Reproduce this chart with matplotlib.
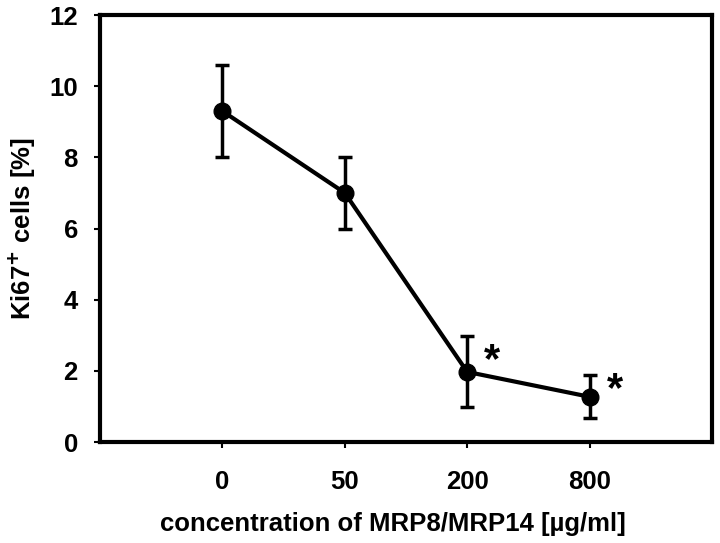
import numpy as np
import matplotlib.pyplot as plt

plt.rcParams['font.family'] = ['Liberation Sans', 'DejaVu Sans']
plt.rcParams['font.weight'] = 'bold'

conc_labels = ['0', '50', '200', '800']
ki67 = [9.3, 7.0, 1.97, 1.27]
err = [1.3, 1.0, 1.0, 0.6]
signif = [False, False, True, True]

fig = plt.figure(figsize=(7.2, 5.43), dpi=100)
ax = fig.add_axes([100 / 720, 1 - 442 / 543, 612 / 720, 427 / 543])

x = np.arange(len(conc_labels))
ax.errorbar(x, ki67, yerr=err, color='black', lw=3, marker='o', ms=12,
            capsize=5, capthick=2.5, elinewidth=2.5)
# significance stars next to the points
for xi, yi, e, s in zip(x, ki67, err, signif):
    if s:
        ax.text(xi + 0.14, yi + e * 0.3, '*', fontsize=30, fontweight='bold',
                ha='left', va='center')

ax.set_xlim(-1, 4)
ax.set_ylim(0, 12)
ax.set_xticks(x)
ax.set_xticklabels(conc_labels)
ax.set_yticks(np.arange(0, 13, 2))
ax.tick_params(axis='both', labelsize=18.5, width=1.5, length=4)
ax.tick_params(axis='y', pad=12)
ax.tick_params(axis='x', pad=16)
for sp in ax.spines.values():
    sp.set_linewidth(3)

ax.set_xlabel('concentration of MRP8/MRP14 [µg/ml]', fontsize=18.5, fontweight='bold', labelpad=13)
ax.xaxis.label.set_x(0.478)
ax.set_ylabel('Ki67$^{\\mathbf{+}}$ cells [%]', fontsize=18.5, fontweight='bold', labelpad=8)

fig.savefig('out.png', dpi=100)
